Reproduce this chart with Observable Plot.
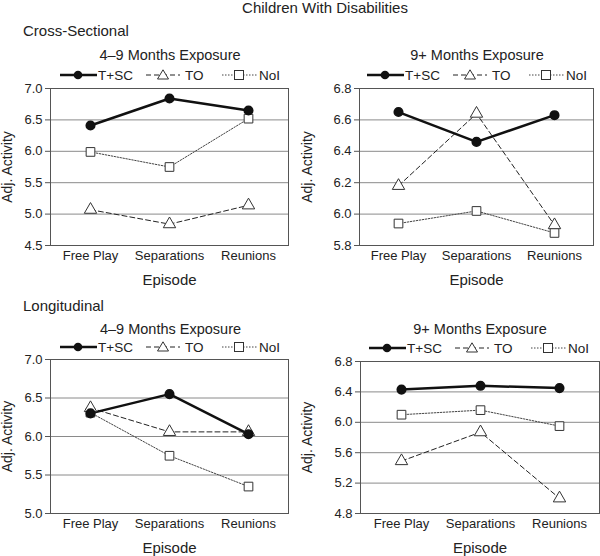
<!DOCTYPE html>
<html>
<head>
<meta charset="utf-8">
<script src="https://cdn.jsdelivr.net/npm/d3@7"></script>
<script src="https://cdn.jsdelivr.net/npm/@observablehq/plot@0.6"></script>
<style>
  html, body { margin: 0; padding: 0; background: #fff; }
  #root { position: relative; width: 600px; height: 556px; overflow: hidden;
          font-family: "Liberation Sans", Arial, sans-serif; color: #222; }
  .txt { position: absolute; white-space: nowrap; line-height: 18px; font-size: 15px; }
  .ctr { transform: translateX(-50%); }
  .panel { position: absolute; }
  .panel svg [aria-label="y-axis label"] text { font-size: 14px; }
  .panel svg [aria-label="x-axis label"] text { font-size: 15px; }
  .legend { position: absolute; }
</style>
</head>
<body>
<div id="root"></div>
<script>
// ---- data ----
const episodes = ["Free Play", "Separations", "Reunions"];
const seriesNames = ["T+SC", "TO", "NoI"];

// Cross-Sectional, 4–9 months
const cs49_TSC = [6.41, 6.84, 6.65];
const cs49_TO  = [5.07, 4.84, 5.14];
const cs49_NoI = [5.99, 5.75, 6.52];
// Cross-Sectional, 9+ months
const cs9_TSC = [6.65, 6.46, 6.63];
const cs9_TO  = [6.18, 6.64, 5.93];
const cs9_NoI = [5.94, 6.02, 5.88];
// Longitudinal, 4–9 months
const lg49_TSC = [6.30, 6.55, 6.03];
const lg49_TO  = [6.37, 6.06, 6.06];
const lg49_NoI = [6.31, 5.75, 5.35];
// Longitudinal, 9+ months
const lg9_TSC = [6.43, 6.48, 6.45];
const lg9_TO  = [5.49, 5.87, 5.00];
const lg9_NoI = [6.10, 6.16, 5.95];

const ticks49cs = [4.5, 5.0, 5.5, 6.0, 6.5, 7.0];
const ticks9cs  = [5.8, 6.0, 6.2, 6.4, 6.6, 6.8];
const ticks49lg = [5.0, 5.5, 6.0, 6.5, 7.0];
const ticks9lg  = [4.8, 5.2, 5.6, 6.0, 6.4, 6.8];

const mainTitle = "Children With Disabilities";
const sectionTitles = ["Cross-Sectional", "Longitudinal"];
const panelTitles = ["4\u20139 Months Exposure", "9+ Months Exposure"];

// ---- helpers ----
function rows(tsc, to, noi) {
  const out = [];
  episodes.forEach((e, i) => {
    out.push({episode: e, series: "T+SC", value: tsc[i]});
    out.push({episode: e, series: "TO", value: to[i]});
    out.push({episode: e, series: "NoI", value: noi[i]});
  });
  return out;
}

const root = document.getElementById("root");

function addText(str, left, top, opts = {}) {
  const d = document.createElement("div");
  d.className = "txt" + (opts.center ? " ctr" : "");
  d.textContent = str;
  d.style.left = left + "px";
  d.style.top = top + "px";
  if (opts.size) d.style.fontSize = opts.size + "px";
  root.appendChild(d);
}

function panel(data, ticks, cfg) {
  const innerH = cfg.bottom - cfg.top;
  const mt = 8, mb = 46;
  const chart = Plot.plot({
    width: cfg.width,
    height: mt + innerH + mb,
    marginTop: mt,
    marginBottom: mb,
    marginLeft: cfg.ml,
    marginRight: cfg.mr,
    style: {fontFamily: '"Liberation Sans", Arial, sans-serif', fontSize: "13px", color: "#222", background: "transparent", overflow: "visible"},
    x: {type: "point", domain: episodes, padding: 0.5},
    y: {domain: [ticks[0], ticks[ticks.length - 1]]},
    marks: [
      Plot.gridY(ticks, {stroke: "#8a8a8a", strokeOpacity: 1, strokeWidth: 1}),
      Plot.axisY(ticks, {tickFormat: d3.format(".1f"), tickSize: 5, tickPadding: 3, stroke: "#555",
        label: "Adj. Activity", labelAnchor: "center", labelArrow: "none", labelOffset: cfg.ml - 2}),
      Plot.axisX({tickSize: 0, tickPadding: 5, label: "Episode", labelAnchor: "center", labelArrow: "none", labelOffset: 39}),
      Plot.frame({stroke: "#555", strokeWidth: 1}),
      Plot.lineY(data.filter(d => d.series === "NoI"), {x: "episode", y: "value", stroke: "#444", strokeWidth: 1, strokeDasharray: "1.5,1.5"}),
      Plot.lineY(data.filter(d => d.series === "TO"), {x: "episode", y: "value", stroke: "#222", strokeWidth: 1, strokeDasharray: "5,3"}),
      Plot.lineY(data.filter(d => d.series === "T+SC"), {x: "episode", y: "value", stroke: "#111", strokeWidth: 2.5}),
      Plot.dot(data.filter(d => d.series === "NoI"), {x: "episode", y: "value", symbol: "square", r: 4.9, fill: "white", stroke: "#333", strokeWidth: 1}),
      Plot.dot(data.filter(d => d.series === "TO"), {x: "episode", y: "value", symbol: "triangle", r: 4.6, fill: "white", stroke: "#333", strokeWidth: 1}),
      Plot.dot(data.filter(d => d.series === "T+SC"), {x: "episode", y: "value", symbol: "circle", r: 4.3, fill: "#111", stroke: "#111"})
    ]
  });
  const wrap = document.createElement("div");
  wrap.className = "panel";
  wrap.style.left = cfg.left + "px";
  wrap.style.top = (cfg.top - mt) + "px";
  wrap.appendChild(chart);
  root.appendChild(wrap);
}

function legend(left, cy) {
  const ns = "http://www.w3.org/2000/svg";
  const svg = document.createElementNS(ns, "svg");
  svg.setAttribute("width", 240);
  svg.setAttribute("height", 20);
  svg.setAttribute("class", "legend");
  svg.style.left = left + "px";
  svg.style.top = (cy - 10) + "px";
  const y = 10;
  const mk = (tag, attrs) => { const e = document.createElementNS(ns, tag); for (const k in attrs) e.setAttribute(k, attrs[k]); svg.appendChild(e); return e; };
  // T+SC
  mk("line", {x1: 0, x2: 37, y1: y, y2: y, stroke: "#111", "stroke-width": 2.5});
  mk("circle", {cx: 18, cy: y, r: 4.3, fill: "#111"});
  // TO
  mk("line", {x1: 86, x2: 120, y1: y, y2: y, stroke: "#222", "stroke-width": 1, "stroke-dasharray": "5,3"});
  mk("path", {d: `M${103},${y - 5.2}L${108.5},${y + 4}L${97.5},${y + 4}Z`, fill: "white", stroke: "#333", "stroke-width": 1});
  // NoI
  mk("line", {x1: 162, x2: 197, y1: y, y2: y, stroke: "#444", "stroke-width": 1, "stroke-dasharray": "1.5,1.5"});
  mk("rect", {x: 174.5, y: y - 4.5, width: 9, height: 9, fill: "white", stroke: "#333", "stroke-width": 1});
  const txt = (s, x) => { const t = mk("text", {x, y: y + 4.8, "font-size": 13.5, fill: "#222", "font-family": '"Liberation Sans", Arial, sans-serif'}); t.textContent = s; };
  txt(seriesNames[0], 38);
  txt(seriesNames[1], 125);
  txt(seriesNames[2], 199);
  root.appendChild(svg);
}

// ---- layout ----
panel(rows(cs49_TSC, cs49_TO, cs49_NoI), ticks49cs, {left: 0, width: 300, ml: 50, mr: 12, top: 88, bottom: 245});
panel(rows(cs9_TSC, cs9_TO, cs9_NoI), ticks9cs, {left: 300, width: 300, ml: 59, mr: 7, top: 88, bottom: 245});
panel(rows(lg49_TSC, lg49_TO, lg49_NoI), ticks49lg, {left: 0, width: 300, ml: 50, mr: 12, top: 359, bottom: 513});
panel(rows(lg9_TSC, lg9_TO, lg9_NoI), ticks9lg, {left: 300, width: 300, ml: 60, mr: 1, top: 361, bottom: 513});

addText(mainTitle, 325, -1, {center: true});
addText(sectionTitles[0], 23, 22);
addText(sectionTitles[1], 23, 297);
addText(panelTitles[0], 170, 46, {center: true, size: 14.5});
addText(panelTitles[1], 477, 46, {center: true, size: 14.5});
addText(panelTitles[0], 170.5, 320, {center: true, size: 14.5});
addText(panelTitles[1], 480, 320, {center: true, size: 14.5});

legend(60, 74.5);
legend(367, 74.5);
legend(60, 347);
legend(369, 347.5);
</script>
</body>
</html>
